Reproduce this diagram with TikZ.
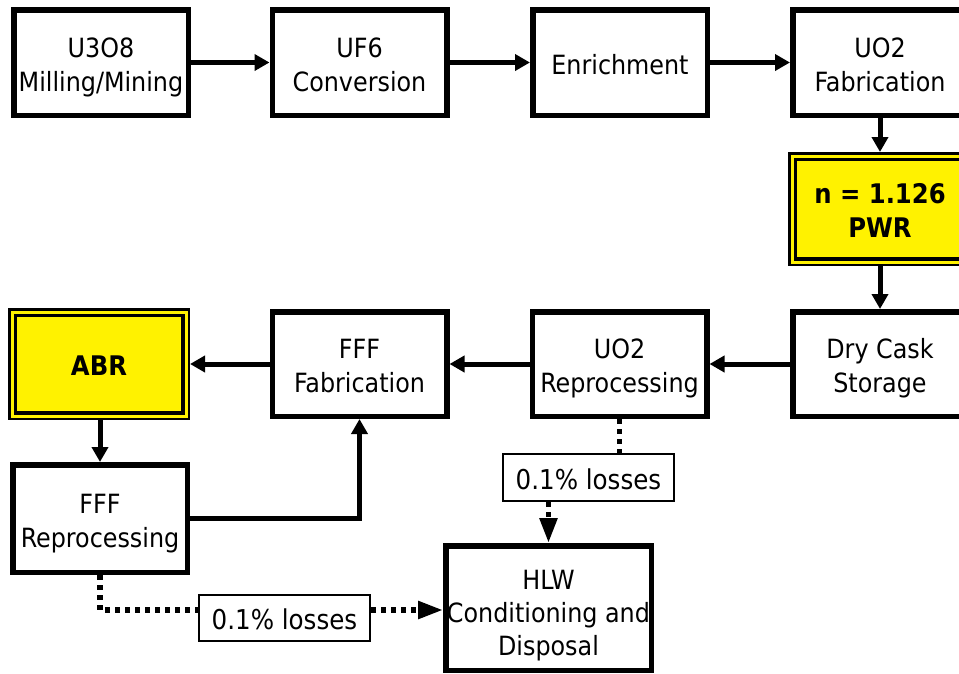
\documentclass[tikz,border=0pt]{standalone}
\usepackage{fontspec}
\setmainfont{DejaVu Sans Condensed}
\usetikzlibrary{arrows.meta}
% fixed first-line height and last-line depth, so every label sits the same way
\newcommand\upstrut[1][30pt]{\rule{0pt}{#1}}
\newcommand\downstrut{\rule[-7pt]{0pt}{7pt}}
\begin{document}
\begin{tikzpicture}[x=1pt,y=-1pt,
  box/.style={draw, line width=5.5pt, fill=white, minimum width=174.5pt,
    minimum height=105.5pt, inner sep=0pt, outer sep=2.75pt, align=center,
    font=\fontsize{26.5}{34}\selectfont},
  reactor/.style={draw, line width=2.5pt, fill=yellow, inner sep=0pt,
    outer sep=1.25pt, align=center, font=\fontsize{27}{34}\selectfont\bfseries},
  rim/.style={draw, line width=3.5pt},
  lossbox/.style={draw, line width=2pt, fill=white, minimum width=171pt,
    minimum height=47pt, inner sep=0pt, outer sep=1pt,
    font=\fontsize{27.3}{34}\selectfont},
  flow/.style={line width=5pt, -{Triangle[length=15pt,width=16pt]}},
  loss/.style={line width=5.5pt, dash pattern=on 5pt off 5pt},
  lossflow/.style={loss, -{Triangle[length=25pt,width=17pt]}}
]
\useasboundingbox (0,0) rectangle (959,673);
\clip (0,0) rectangle (959,673);
\fill[white] (0,0) rectangle (959,673);

% front end of the fuel cycle
\node[box] (mill) at (101,62.5) {\upstrut U3O8\\Milling/Mining\downstrut};
\node[box] (conv) at (359.5,62.5) {\upstrut UF6\\Conversion\downstrut};
\node[box] (enr)  at (620,62.5) {\upstrut Enrichment\downstrut};
\node[box] (fab)  at (880,62.5) {\upstrut UO2\\Fabrication\downstrut};

% thermal reactor
\node[reactor, minimum width=181.5pt, minimum height=111.5pt] (pwr) at (880,209)
  {\upstrut n = 1.126\\PWR\downstrut};
\draw[rim] ([shift={(7.25,7.25)}]pwr.north west) rectangle ([shift={(-7.25,-7.25)}]pwr.south east);

% back end
\node[box, minimum height=104.5pt] (cask)  at (880,364) {\upstrut Dry Cask\\Storage\downstrut};
\node[box, minimum height=104.5pt] (uoproc) at (619.5,364) {\upstrut UO2\\Reprocessing\downstrut};
\node[box, minimum height=104.5pt] (ffffab) at (359.5,364) {\upstrut FFF\\Fabrication\downstrut};

% fast reactor
\node[reactor, minimum width=179.5pt, minimum height=109.5pt] (abr) at (99,364) {\upstrut ABR\downstrut};
\draw[rim] ([shift={(7.25,7.25)}]abr.north west) rectangle ([shift={(-7.25,-7.25)}]abr.south east);

\node[box, minimum height=107.5pt] (fffproc) at (100,518.5) {\upstrut FFF\\Reprocessing\downstrut};
\node[box, minimum width=205.5pt, minimum height=124.5pt,
  font=\fontsize{26.5}{33}\selectfont] (hlw) at (548.5,608)
  {\upstrut[36pt]HLW\\Conditioning and\\Disposal\downstrut};

% losses
\node[lossbox] (lossA) at (588.5,477.5) {\upstrut 0.1\% losses\downstrut};
\node[lossbox, minimum height=46pt] (lossB) at (284.5,618) {\upstrut 0.1\% losses\downstrut};

% main material flow
\draw[flow] (mill) -- (conv);
\draw[flow] (conv) -- (enr);
\draw[flow] (enr) -- (fab);
\draw[flow] (fab) -- (pwr);
\draw[flow] (pwr) -- (cask);
\draw[flow] (cask) -- (uoproc);
\draw[flow] (uoproc) -- (ffffab);
\draw[flow] (ffffab) -- (abr);
\draw[flow] (abr.south -| fffproc.north) -- (fffproc.north);
\draw[flow] (fffproc.east) -- (fffproc.east -| ffffab.south) -- (ffffab.south);

% loss streams to waste
\draw[loss] (uoproc.south) -- (uoproc.south |- lossA.north);
\draw[lossflow] (lossA.south -| hlw.north) -- (hlw.north);
\draw[loss] (fffproc.south) |- ([yshift=8pt]lossB.west);
\draw[lossflow] ([yshift=8pt]lossB.east) -- ([yshift=8pt]lossB.east -| hlw.west);
\end{tikzpicture}
\end{document}
